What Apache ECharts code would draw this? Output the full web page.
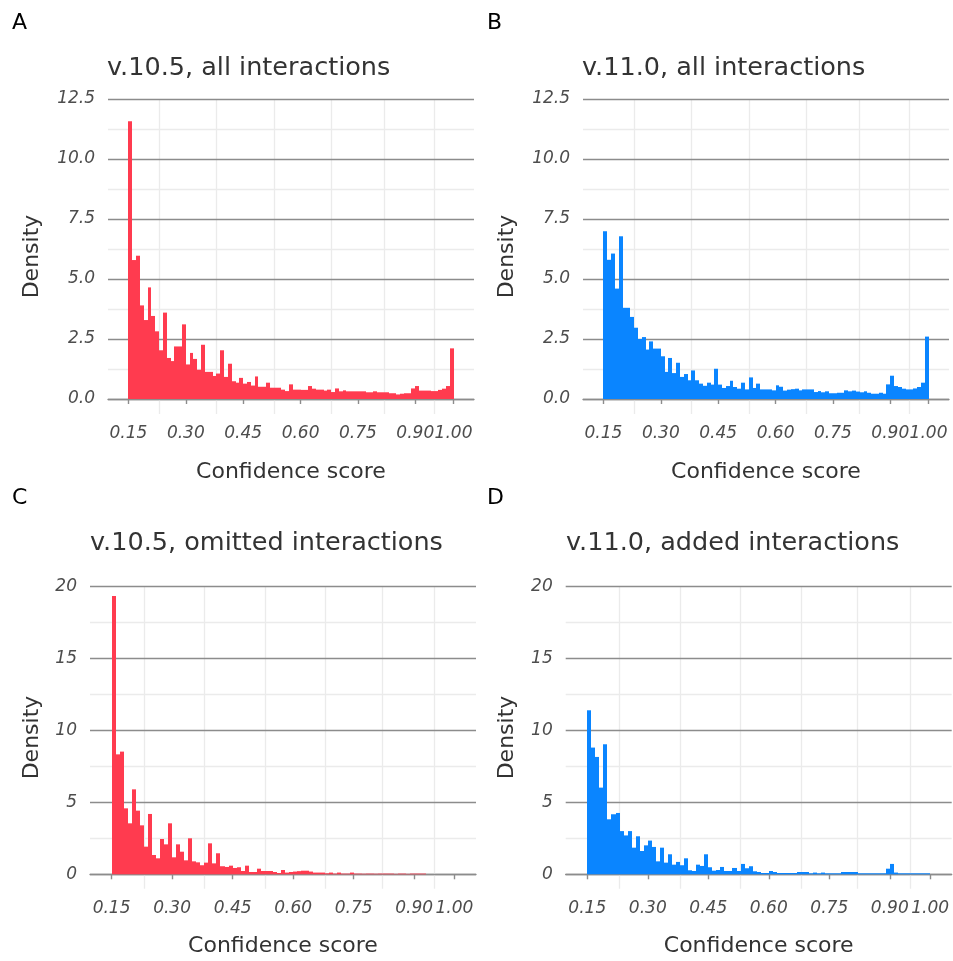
<!DOCTYPE html>
<html>
<head>
  <meta charset="utf-8" />
  <title>Confidence score histograms</title>
  <style>
    html, body { margin: 0; padding: 0; background: #fff; }
    #chart { width: 953px; height: 961px; }
  </style>
</head>
<body>
  <div id="chart"></div>
  <script src="https://cdn.jsdelivr.net/npm/echarts@6/dist/echarts.min.js"></script>
  <script>
    // histogram bins: 0.15 .. 1.00, width 0.01 (85 bins)
    var binStart = 0.15;
    var binWidth = 0.01;

    // A: v.10.5, all interactions
    var densityA = [11.57, 5.79, 5.97, 3.9, 3.29, 4.65, 3.46, 2.82, 2.03, 3.6,
      1.71, 1.58, 2.19, 2.19, 3.11, 1.44, 1.92, 1.67, 1.22, 2.26,
      1.13, 1.13, 0.96, 1.06, 2.03, 0.92, 1.47, 0.74, 0.68, 0.88,
      0.64, 0.71, 0.56, 0.94, 0.51, 0.51, 0.68, 0.47, 0.47, 0.47,
      0.39, 0.33, 0.61, 0.39, 0.39, 0.38, 0.38, 0.54, 0.43, 0.39,
      0.39, 0.35, 0.39, 0.29, 0.44, 0.32, 0.36, 0.32, 0.32, 0.32,
      0.32, 0.32, 0.28, 0.28, 0.32, 0.28, 0.28, 0.28, 0.24, 0.24,
      0.19, 0.22, 0.24, 0.24, 0.44, 0.54, 0.35, 0.35, 0.35, 0.33,
      0.33, 0.38, 0.43, 0.54, 2.11];
    // B: v.11.0, all interactions
    var densityB = [6.99, 5.8, 6.06, 4.6, 6.78, 3.8, 3.8, 3.42, 2.97, 2.5,
      2.58, 2.06, 2.4, 2.1, 2.1, 1.78, 1.13, 1.71, 1.08, 1.51,
      0.92, 1.04, 0.78, 1.19, 0.78, 0.64, 0.55, 0.68, 0.6, 1.26,
      0.6, 0.46, 0.54, 0.76, 0.5, 0.43, 0.68, 0.4, 0.9, 0.46,
      0.64, 0.4, 0.4, 0.4, 0.36, 0.57, 0.51, 0.35, 0.39, 0.41,
      0.43, 0.36, 0.4, 0.4, 0.4, 0.29, 0.33, 0.28, 0.32, 0.24,
      0.24, 0.26, 0.26, 0.36, 0.32, 0.35, 0.31, 0.28, 0.32, 0.26,
      0.22, 0.22, 0.26, 0.22, 0.61, 0.97, 0.54, 0.5, 0.43, 0.4,
      0.4, 0.44, 0.5, 0.68, 2.6];
    // C: v.10.5, omitted interactions
    var densityC = [19.33, 8.33, 8.52, 4.58, 3.54, 5.9, 4.42, 3.4, 1.92, 4.19,
      1.34, 1.11, 2.45, 2.08, 3.54, 1.18, 2.08, 1.57, 0.97, 2.5,
      0.9, 0.83, 0.63, 0.81, 2.15, 0.76, 1.46, 0.56, 0.51, 0.6,
      0.44, 0.49, 0.23, 0.6, 0.16, 0.16, 0.39, 0.23, 0.23, 0.23,
      0.16, 0.09, 0.3, 0.12, 0.16, 0.19, 0.22, 0.25, 0.25, 0.19,
      0.12, 0.12, 0.12, 0.07, 0.12, 0.05, 0.12, 0.05, 0.05, 0.12,
      0.05, 0.05, 0.04, 0.05, 0.05, 0.04, 0.05, 0.05, 0.05, 0.05,
      0.03, 0.05, 0.05, 0.03, 0.05, 0.05, 0.05, 0.05, 0, 0,
      0, 0, 0, 0, 0];
    // D: v.11.0, added interactions
    var densityD = [11.39, 8.8, 8.15, 6.02, 9.03, 3.82, 4.17, 4.26, 3.0, 2.7,
      3.0, 1.85, 2.64, 1.62, 2.01, 2.34, 1.9, 0.9, 1.85, 0.81,
      1.39, 0.67, 0.86, 0.63, 1.11, 0.28, 0.23, 0.67, 0.58, 1.39,
      0.49, 0.25, 0.3, 0.51, 0.23, 0.23, 0.44, 0.23, 0.72, 0.42,
      0.56, 0.21, 0.16, 0.09, 0.09, 0.23, 0.16, 0.09, 0.09, 0.09,
      0.09, 0.09, 0.16, 0.16, 0.16, 0.07, 0.12, 0.07, 0.12, 0.07,
      0.07, 0.07, 0.07, 0.16, 0.16, 0.16, 0.16, 0.07, 0.07, 0.07,
      0.07, 0.07, 0.07, 0.07, 0.39, 0.72, 0.12, 0.07, 0.07, 0.07,
      0.07, 0.07, 0.07, 0.07, 0.07];

    var xTicks = [0.15, 0.30, 0.45, 0.60, 0.75, 0.90, 1.00];
    var xMinor = [0.225, 0.375, 0.525, 0.675, 0.825, 0.95];
    var yTicksTop = [0, 2.5, 5, 7.5, 10, 12.5];
    var yMinorTop = [1.25, 3.75, 6.25, 8.75, 11.25];
    var yTicksBottom = [0, 5, 10, 15, 20];
    var yMinorBottom = [2.5, 7.5, 12.5, 17.5];

    var panelLetters = ['A', 'B', 'C', 'D'];
    var panelTitles = ['v.10.5, all interactions', 'v.11.0, all interactions',
      'v.10.5, omitted interactions', 'v.11.0, added interactions'];

    var RED = '#ff3b4f';
    var BLUE = '#0a85ff';
    var MAJOR = '#8c8c8c';
    var MINOR = '#ebebeb';
    var FONT = 'DejaVu Sans, sans-serif';

    var panels = [
      { grid: { left: 108, top: 99, width: 366, height: 315 }, data: densityA, color: RED,
        yMin: -0.625, yMax: 12.5, yTicks: yTicksTop, yMinor: yMinorTop, digits: 1, nameGap: 65,
        letter: [12, 12], title: [107, 55] },
      { grid: { left: 583, top: 99, width: 366, height: 315 }, data: densityB, color: BLUE,
        yMin: -0.625, yMax: 12.5, yTicks: yTicksTop, yMinor: yMinorTop, digits: 1, nameGap: 65,
        letter: [487, 12], title: [582, 55] },
      { grid: { left: 90, top: 586.3, width: 386, height: 302.4 }, data: densityC, color: RED,
        yMin: -1, yMax: 20, yTicks: yTicksBottom, yMinor: yMinorBottom, digits: 0, nameGap: 47,
        letter: [12, 487], title: [90, 530] },
      { grid: { left: 565.7, top: 586.3, width: 386, height: 302.4 }, data: densityD, color: BLUE,
        yMin: -1, yMax: 20, yTicks: yTicksBottom, yMinor: yMinorBottom, digits: 0, nameGap: 47,
        letter: [487, 487], title: [566, 530] }
    ];

    function toBins(values) {
      var out = [];
      for (var i = 0; i < values.length; i++) {
        var lo = binStart + i * binWidth;
        out.push([lo, lo + binWidth, values[i]]);
      }
      return out;
    }

    function histRender(color) {
      return function (params, api) {
        var p0 = api.coord([api.value(0), 0]);
        var p1 = api.coord([api.value(1), api.value(2)]);
        var xa = Math.round(p0[0]), xb = Math.round(p1[0]);
        return {
          type: 'rect',
          shape: { x: xa, y: p1[1], width: xb - xa, height: p0[1] - p1[1] },
          style: { fill: color }
        };
      };
    }

    var option = { animation: false, backgroundColor: '#fff', title: [], grid: [], xAxis: [], yAxis: [], series: [] };

    panels.forEach(function (p, i) {
      option.title.push({
        text: panelLetters[i], left: p.letter[0], top: p.letter[1], padding: 0,
        textStyle: { fontFamily: FONT, fontSize: 22, fontWeight: 'normal', color: '#000' }
      });
      option.title.push({
        text: panelTitles[i], left: p.title[0], top: p.title[1], padding: 0,
        textStyle: { fontFamily: FONT, fontSize: 25.5, fontWeight: 'normal', color: '#333' }
      });
      option.grid.push(p.grid);
      option.xAxis.push({
        type: 'value', gridIndex: i, min: 0.0965, max: 1.0535,
        name: 'Confidence score', nameLocation: 'middle', nameGap: 47,
        nameTextStyle: { fontFamily: FONT, fontSize: 22, color: '#333' },
        axisLine: { show: true, lineStyle: { color: MAJOR, width: 1.4 } },
        axisTick: { show: true, length: 5, customValues: xTicks, lineStyle: { color: MAJOR, width: 1.4 } },
        axisLabel: {
          customValues: xTicks, margin: 11, fontFamily: FONT, fontSize: 17, fontStyle: 'italic', color: '#4d4d4d',
          formatter: function (v) { return v.toFixed(2); }
        },
        splitLine: { show: false }
      });
      option.yAxis.push({
        type: 'value', gridIndex: i, min: p.yMin, max: p.yMax,
        name: 'Density', nameLocation: 'middle', nameGap: p.nameGap, nameRotate: 90,
        nameTextStyle: { fontFamily: FONT, fontSize: 22, color: '#333' },
        axisLine: { show: false },
        axisTick: { show: false, customValues: p.yTicks },
        axisLabel: {
          customValues: p.yTicks, margin: 13, fontFamily: FONT, fontSize: 17, fontStyle: 'italic', color: '#4d4d4d',
          formatter: (function (d) { return function (v) { return v.toFixed(d); }; })(p.digits)
        },
        splitLine: { show: false }
      });

      var lines = [];
      xMinor.forEach(function (v) { lines.push({ xAxis: v, lineStyle: { color: MINOR, width: 1.3, type: 'solid' } }); });
      p.yMinor.forEach(function (v) { lines.push({ yAxis: v, lineStyle: { color: MINOR, width: 1.3, type: 'solid' } }); });
      p.yTicks.forEach(function (v) { lines.push({ yAxis: v, lineStyle: { color: MAJOR, width: 1.4, type: 'solid' } }); });

      option.series.push({
        type: 'line', xAxisIndex: i, yAxisIndex: i, data: [], z: 1, silent: true,
        markLine: { silent: true, z: 1, symbol: 'none', label: { show: false }, data: lines, animation: false }
      });
      option.series.push({
        type: 'custom', xAxisIndex: i, yAxisIndex: i, z: 10, silent: true,
        renderItem: histRender(p.color),
        encode: { x: [0, 1], y: 2 },
        data: toBins(p.data)
      });
    });

    var chart = echarts.init(document.getElementById('chart'));
    chart.setOption(option);
  </script>
</body>
</html>
